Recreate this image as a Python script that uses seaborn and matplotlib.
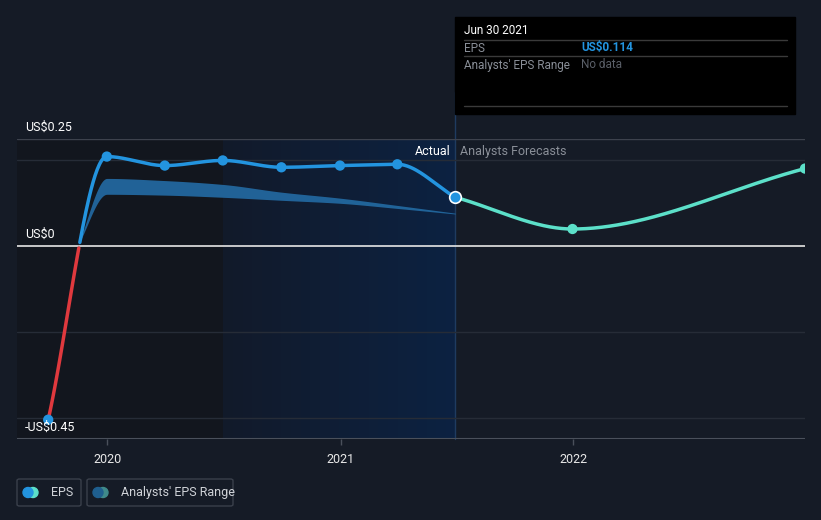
import numpy as np
import pandas as pd
import matplotlib
matplotlib.use("Agg")
import matplotlib.pyplot as plt
import matplotlib.dates as mdates
from matplotlib.patches import Rectangle, FancyBboxPatch, Ellipse
from matplotlib.lines import Line2D
from matplotlib.colors import LinearSegmentedColormap
import seaborn as sns

# ---------------- data ----------------
eps_dates = ["2019-09-30", "2019-12-31", "2020-03-31", "2020-06-30",
             "2020-09-30", "2020-12-31", "2021-03-31", "2021-06-30"]
eps_values = [-0.405, 0.209, 0.188, 0.200, 0.184, 0.188, 0.191, 0.114]

fc_dates = ["2021-06-30", "2021-12-31", "2022-12-31"]
fc_values = [0.114, 0.040, 0.181]

band_dates = ["2019-11-15", "2019-12-31", "2020-03-31", "2020-06-30",
              "2020-09-30", "2020-12-31", "2021-03-31", "2021-06-30"]
band_high = [0.0, 0.158, 0.153, 0.144, 0.126, 0.112, 0.095, 0.077]
band_low = [0.0, 0.121, 0.119, 0.114, 0.107, 0.100, 0.088, 0.075]

y_ticks = [0.25, 0.0, -0.45]
y_tick_labels = ["US$0.25", "US$0", "-US$0.45"]
x_ticks = ["2020-01-01", "2021-01-01", "2022-01-01"]
x_tick_labels = ["2020", "2021", "2022"]

# ---------------- helpers ----------------
def monotone(x, y, n=400):
    x = np.asarray(x, float); y = np.asarray(y, float)
    h = np.diff(x); d = np.diff(y) / h
    m = np.zeros_like(y)
    m[0] = d[0]; m[-1] = d[-1]
    for i in range(1, len(y) - 1):
        if d[i - 1] * d[i] <= 0:
            m[i] = 0
        else:
            w1 = 2 * h[i] + h[i - 1]; w2 = h[i] + 2 * h[i - 1]
            m[i] = (w1 + w2) / (w1 / d[i - 1] + w2 / d[i])
    xs = np.linspace(x[0], x[-1], n)
    idx = np.clip(np.searchsorted(x, xs) - 1, 0, len(x) - 2)
    t = (xs - x[idx]) / h[idx]
    h00 = 2 * t**3 - 3 * t**2 + 1; h10 = t**3 - 2 * t**2 + t
    h01 = -2 * t**3 + 3 * t**2; h11 = t**3 - t**2
    ys = h00 * y[idx] + h10 * h[idx] * m[idx] + h01 * y[idx + 1] + h11 * h[idx] * m[idx + 1]
    return xs, ys

def dn(lst):
    return mdates.date2num(pd.to_datetime(lst))

sns.set_theme(style="dark")
plt.rcParams['font.family'] = ['Roboto', 'DejaVu Sans']

BG = "#151b26"
W, H = 821, 520
fig = plt.figure(figsize=(8.21, 5.2), dpi=100, facecolor=BG)
ax = fig.add_axes([17 / W, 81 / H, 788 / W, 300 / H])
ax.set_facecolor(BG)

xmin = mdates.date2num(pd.Timestamp("2019-08-12"))
xmax = mdates.date2num(pd.Timestamp("2022-12-31"))
ymin, ymax = -0.45, 0.25
x_split = mdates.date2num(pd.Timestamp("2020-06-30"))
x_now = mdates.date2num(pd.Timestamp("2021-06-30"))

# regions
ax.axvspan(xmin, x_split, color="#12161e", zorder=0, lw=0)
grad = np.linspace(0, 1, 256)[None, :]
cmap = LinearSegmentedColormap.from_list("g", ["#121a2a", "#0c2242"])
ax.imshow(grad, extent=[x_split, x_now, ymin, ymax], aspect="auto", cmap=cmap, zorder=0.5)
ax.plot([x_now, x_now], [ymin, 0.36], color="#1f3b60", lw=1, zorder=1, clip_on=False)

# grid lines
for v in (0.2, -0.2, -0.4):
    ax.axhline(v, color="#262c37", lw=1, zorder=1)
ax.axhline(0.25, color="#3d424d", lw=1, zorder=1)
ax.axhline(0.0, color="#e6e6e6", lw=1.2, zorder=2)
ax.axhline(ymin, color="#4a505b", lw=1.5, zorder=2)

# band
bx, bh = monotone(dn(band_dates), band_high)
_, bl = monotone(dn(band_dates), band_low)
ax.fill_between(bx, bl, bh, color="#22679e", alpha=0.95, lw=0, zorder=3)

# EPS line
ex, ey = monotone(dn(eps_dates), eps_values)
df = pd.DataFrame({"x": ex, "y": ey})
pos = df.copy(); pos.loc[pos.y < 0, "y"] = np.nan
neg = df[df.y <= 0.002]
ax.plot(neg.x, neg.y, color="#e0393e", lw=2.5, zorder=4, solid_capstyle="round")
ax.plot(pos.x, pos.y, color="#2394df", lw=2.5, zorder=4, solid_capstyle="round")

# forecast line
fx, fy = monotone(dn(fc_dates), fc_values)
sns.lineplot(x=fx, y=fy, ax=ax, color="#5ce0c9", lw=2.5, zorder=4)

# markers
sns.scatterplot(x=dn(eps_dates[:-1]), y=eps_values[:-1], ax=ax, color="#2394df",
                s=55, edgecolor="none", zorder=5)
ax.scatter(dn(eps_dates[-1:]), eps_values[-1:], s=70, color="#2394df",
           edgecolor="#ffffff", linewidth=1.2, zorder=6)
sns.scatterplot(x=dn(fc_dates[1:]), y=fc_values[1:], ax=ax, color="#5ce0c9",
                s=55, edgecolor="none", zorder=5)

ax.set_xlim(xmin, xmax)
ax.set_ylim(ymin, ymax)
ax.set_xticks(dn(x_ticks))
ax.set_xticklabels(x_tick_labels, color="#e8e8e8", fontsize=9)
ax.tick_params(axis="x", length=4, color="#4a505b", width=1, pad=6, bottom=True)
ax.set_yticks([])
for s in ax.spines.values():
    s.set_visible(False)
ax.grid(False)

# y labels (placed just above their reference lines)
for v, lab in zip(y_ticks, y_tick_labels):
    ypix = ax.transData.transform((xmin, v))[1]
    fig.text(25 / W, (ypix + 5) / H, lab, fontsize=9, color="#ffffff", va="bottom", ha="left")

# Actual / forecasts labels
ax.text(x_now - 8, 0.22, "Actual", color="#ffffff", fontsize=9, ha="right", va="center")
ax.text(x_now + 8, 0.22, "Analysts Forecasts", color="#8a8f98", fontsize=9, ha="left", va="center")

# tooltip
fig.patches.append(Rectangle((455 / W, 1 - 114 / H), 340 / W, 97 / H,
                             transform=fig.transFigure, color="#000000", zorder=10))
for yy in [40, 56, 106]:
    fig.lines.append(Line2D([464 / W, 787 / W], [1 - yy / H] * 2, transform=fig.transFigure,
                            color="#3a3a3a", lw=1, zorder=11))
fig.text(464 / W, 1 - 31 / H, "Jun 30 2021", color="#ffffff", fontsize=8.5, va="center", zorder=12)
fig.text(464 / W, 1 - 48 / H, "EPS", color="#8a8f98", fontsize=8.5, va="center", zorder=12)
fig.text(581 / W, 1 - 48 / H, "US$0.114", color="#2394df", fontsize=8.5, va="center",
         fontweight="bold", zorder=12)
fig.text(464 / W, 1 - 65 / H, "Analysts' EPS Range", color="#8a8f98", fontsize=8.5,
         va="center", zorder=12)
fig.text(581 / W, 1 - 65 / H, "No data", color="#5a5f68", fontsize=8.5, va="center", zorder=12)

# legend
def legbox(x0, w, c1, c2, label):
    fig.patches.append(FancyBboxPatch((x0 / W, 1 - 506 / H), w / W, 27 / H,
                                      boxstyle="round,pad=0,rounding_size=0.003",
                                      transform=fig.transFigure, facecolor="none",
                                      edgecolor="#3a404b", lw=1))
    fig.patches.append(Ellipse(((x0 + 16) / W, 1 - 492.5 / H), 10 / W, 10 / H,
                               transform=fig.transFigure, color=c2, zorder=3))
    fig.patches.append(Ellipse(((x0 + 11) / W, 1 - 492.5 / H), 10 / W, 10 / H,
                               transform=fig.transFigure, color=c1, zorder=4))
    fig.text((x0 + 34) / W, 1 - 492.5 / H, label, color="#d0d3d8", fontsize=9, va="center")

legbox(17, 64, "#2394df", "#5ce0c9", "EPS")
legbox(87, 146, "#1f5f8f", "#3f8a8a", "Analysts' EPS Range")

fig.savefig("out.png", dpi=100, facecolor=BG)
